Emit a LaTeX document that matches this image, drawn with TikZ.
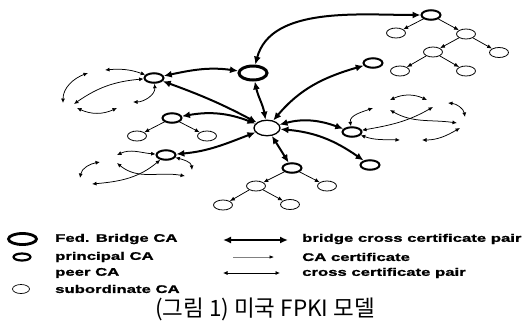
\documentclass[tikz,border=0pt]{standalone}
\usepackage{fontspec}
\usetikzlibrary{arrows.meta,shapes.geometric}
\newfontfamily\legfont[FakeStretch=1.52,FakeBold=1.2]{Liberation Sans}
\newfontfamily\kfont{Noto Sans CJK KR}
\begin{document}
\begin{tikzpicture}[x=1pt,y=1pt,
  ca/.style={ellipse,draw,inner sep=0pt},
  fbca/.style={ca,line width=3pt,minimum width=28pt,minimum height=14pt},
  hubca/.style={ca,line width=1.3pt,minimum width=26pt,minimum height=15.5pt},
  pca/.style={ca,line width=2pt,minimum width=19pt,minimum height=9.5pt},
  sca/.style={ca,line width=0.8pt,minimum width=19pt,minimum height=10pt},
  bpair/.style={line width=2pt,{Latex[length=8pt,width=7pt]}-{Latex[length=8pt,width=7pt]}},
  cert/.style={line width=0.75pt,-{Latex[length=5pt,width=4pt]}},
  xpair/.style={line width=0.75pt,{Latex[length=4.5pt,width=4pt]}-{Latex[length=4.5pt,width=4pt]}},
  leg/.style={anchor=west,inner sep=0pt,font=\legfont\bfseries\fontsize{11}{13}\selectfont},
]
\useasboundingbox (0,0) rectangle (525,-327);

% ---- nodes
\node[fbca] (FB) at (253,-73) {};
\node[hubca] (H) at (267,-128) {};
\node[pca] (P1) at (154,-78) {};
\node[pca] (P2) at (172,-118) {};
\node[sca] (P2a) at (137,-136) {};
\node[sca] (P2b) at (207,-136) {};
\node[pca] (P3) at (166,-155) {};
\node[pca] (PTR) at (431,-15) {};
\node[sca] (T1) at (396,-33) {};
\node[sca] (T2) at (466,-34) {};
\node[sca] (T3) at (433,-52) {};
\node[sca] (T4) at (499,-52.5) {};
\node[sca] (T5) at (400,-71) {};
\node[sca] (T6) at (466,-71) {};
\node[pca] (PS) at (373,-63) {};
\node[pca] (RP) at (352,-132) {};
\node[pca] (BR) at (370,-165) {};
\node[pca] (PB) at (292,-168) {};
\node[sca] (B1) at (256,-186) {};
\node[sca] (B2) at (327,-186) {};
\node[sca] (B3) at (223,-205) {};
\node[sca] (B4) at (290,-204.5) {};

% ---- bridge cross certificate pairs
\draw[bpair] (FB) to[out=75,in=180,looseness=0.9] (PTR);
\draw[bpair] (P1) to[out=12,in=172] (FB);
\draw[bpair] (FB) to[out=-78,in=100] (H);
\draw[bpair] (P1) to[out=-20,in=152] (H);
\draw[bpair] (P2) to[out=10,in=159] (H);
\draw[bpair] (P3) to[out=5,in=-159] (H);
\draw[bpair] (H) to[out=50,in=-164] (PS);
\draw[bpair] (H) to[out=15,in=160] (RP);
\draw[bpair] (H) to[out=-5,in=145] (BR);
\draw[bpair] (H) -- (PB);

% ---- CA certificates
\draw[cert] (PTR) -- (T1);
\draw[cert] (PTR) -- (T2);
\draw[cert] (T2) -- (T3);
\draw[cert] (T2) -- (T4);
\draw[cert] (T3) -- (T5);
\draw[cert] (T3) -- (T6);
\draw[cert] (P2) -- (P2a);
\draw[cert] (P2) -- (P2b);
\draw[cert] (PB) -- (B1);
\draw[cert] (PB) -- (B2);
\draw[cert] (B1) -- (B3);
\draw[cert] (B1) -- (B4);

% ---- free ends of cross certificate pairs
\coordinate (a1) at (88,-73);  \coordinate (a2) at (63,-103);
\coordinate (b1) at (105,-70);
\coordinate (c1) at (74,-104);
\coordinate (d1) at (133,-102);
\coordinate (e1) at (77,-108); \coordinate (e2) at (117,-108);
\coordinate (f1) at (117,-155);
\coordinate (g1) at (100,-162); \coordinate (g2) at (80,-178);
\coordinate (h1) at (92,-184);
\coordinate (i1) at (117,-163); \coordinate (i2) at (185,-176);
\coordinate (j1) at (192,-170);
\coordinate (k1) at (373,-108);
\coordinate (l1) at (390,-100); \coordinate (l2) at (427,-100);
\coordinate (m1) at (390,-110); \coordinate (m2) at (457,-123);
\coordinate (n1) at (448,-103); \coordinate (n2) at (465,-117);
\coordinate (o1) at (433,-107);
\coordinate (p1) at (400,-140);
\coordinate (q1) at (422,-140); \coordinate (q2) at (460,-128);

% ---- cross certificate pairs
\draw[xpair] (a1) to[out=200,in=90] (a2);
\draw[xpair] (P1) to[out=160,in=5] (b1);
\draw[xpair] (P1) to[out=185,in=35] (c1);
\draw[xpair] (P1) to[out=-85,in=0] (d1);
\draw[xpair] (e1) to[out=-25,in=-155] (e2);
\draw[xpair] (f1) to[out=25,in=175] (P3);
\draw[xpair] (g1) to[out=190,in=80] (g2);
\draw[xpair] (P3) to[out=-140,in=5] (h1);
\draw[xpair] (i1) to[out=-40,in=170] (i2);
\draw[xpair] (P3) to[out=-15,in=95] (j1);
\draw[xpair] (RP) to[out=100,in=200] (k1);
\draw[xpair] (l1) to[out=25,in=155] (l2);
\draw[xpair] (m1) to[out=-30,in=172] (m2);
\draw[xpair] (n1) to[out=-5,in=100] (n2);
\draw[xpair] (RP) to[out=10,in=-150] (o1);
\draw[xpair] (RP) to[out=-20,in=178] (p1);
\draw[xpair] (q1) to[out=0,in=-150] (q2);

% ---- legend
\node[ca,line width=2.8pt,minimum width=28pt,minimum height=11pt] (Lfb) at (22.5,-239) {};
\node[ca,line width=2.2pt,minimum width=17pt,minimum height=7pt] (Lpca) at (22,-257) {};
\node[ca,line width=0.7pt,minimum width=17pt,minimum height=9pt] (Lsca) at (21,-289) {};
\node[leg] (Tfb) at (55,-239) {Fed. Bridge CA};
\node[leg] (Tpca) at (55,-257) {principal CA};
\node[leg] (Tpeer) at (55,-273) {peer CA};
\node[leg] (Tsca) at (55,-289) {subordinate CA};

\coordinate (L1a) at (223,-240); \coordinate (L1b) at (288,-240);
\coordinate (L2a) at (233,-257); \coordinate (L2b) at (274,-257);
\coordinate (L3a) at (223,-273); \coordinate (L3b) at (280,-273);
\draw[bpair] (L1a) -- (L1b);
\draw[line width=0.6pt,draw=black!50,-{Latex[length=4.5pt,width=3.5pt,color=black]}] (L2a) -- (L2b);
\draw[xpair] (L3a) -- (L3b);
\node[leg] (Tb) at (302,-239) {bridge cross certificate pair};
\node[leg] (Tc) at (302,-257) {CA certificate};
\node[leg] (Tx) at (302,-273) {cross certificate pair};

\node[font=\kfont\fontsize{22.5}{27}\selectfont,inner sep=0pt] (cap) at (265,-309) {(그림 1) 미국 FPKI 모델};
\end{tikzpicture}
\end{document}
